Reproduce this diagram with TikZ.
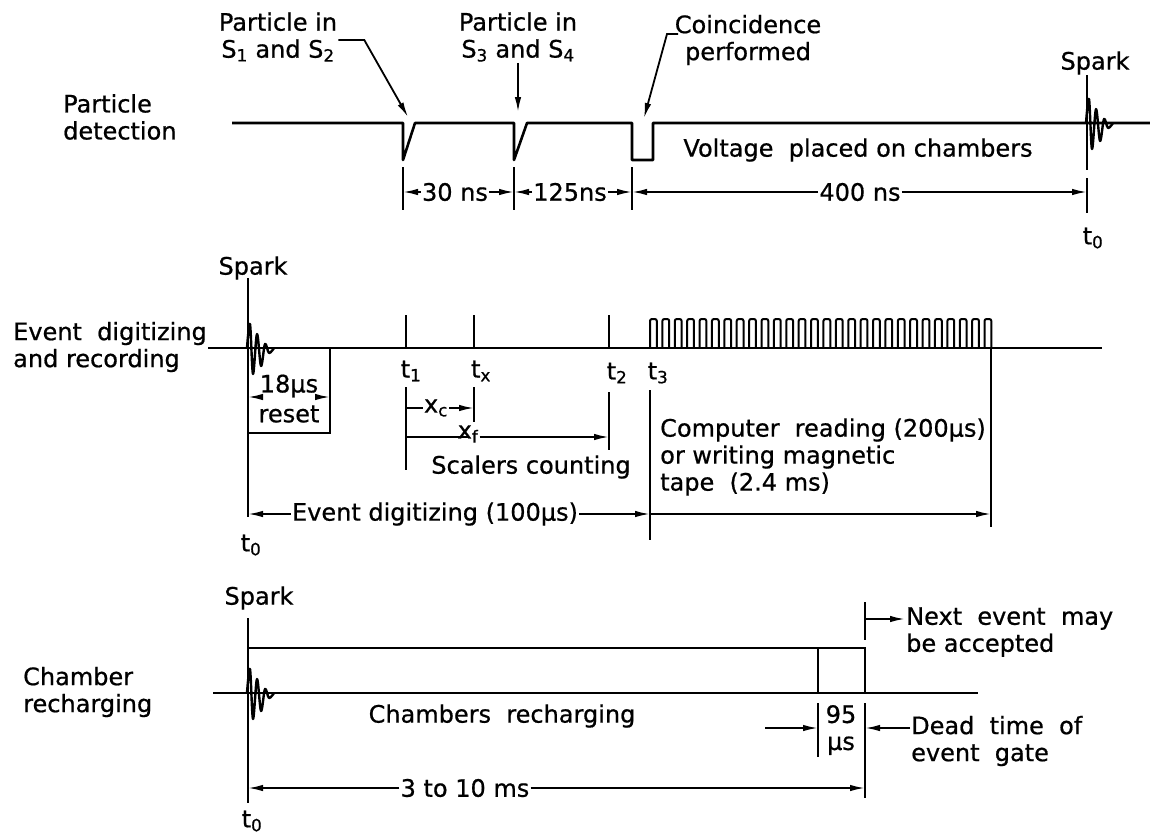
\documentclass[tikz,border=0pt]{standalone}
\usepackage{fontspec}
\setmainfont{DejaVu Sans}[FakeBold=0.7]
\usetikzlibrary{arrows,arrows.meta,positioning}
\newcommand{\subidx}[1]{\textsubscript{#1}}
\newcommand{\sparkburst}[2]{\draw[spark, shift={(#1,#2)}] plot[smooth, tension=0.55] coordinates {(-1,0) (2,-24) (5,26) (9,-14) (13,18) (17,-4) (21,5) (26,0)};}

\begin{document}
\begin{tikzpicture}[x=1pt, y=-1pt, >={Latex[length=15pt,width=6.5pt]},
  lbl/.style={font=\fontsize{24}{27}\selectfont, inner sep=1pt, align=left},
  wave/.style={line width=2.6pt, line join=round},
  dim/.style={line width=1.8pt},
  train/.style={line width=2pt, rounded corners=2pt},
  spark/.style={line width=2.4pt, line join=round}]
\useasboundingbox (0,0) rectangle (1150,839);

% particle detection
\node[lbl, anchor=west] (pdet) at (62,117) {Particle\\detection};
\node[lbl, align=center] (s12) at (278,37) {Particle in\\S\subidx{1} and S\subidx{2}};
\node[lbl, align=center] (s34) at (518,37) {Particle in\\S\subidx{3} and S\subidx{4}};
\node[lbl, align=center] (coinc) at (748,40) {Coincidence\\performed};
\node[lbl] (volt) at (858,150) {Voltage\ \ placed on chambers};
\node[lbl] (spk1) at (1095,63) {Spark};
\node[lbl] (t01) at (1093,238) {t\subidx{0}};
\coordinate (p1) at (408,117);
\coordinate (p2) at (518,112);
\coordinate (p3) at (644,118);
\coordinate (c0) at (678,34);
\draw[wave] (232,123) -- (403,123) -- (403,160) -- (415,123) -- (514,123) -- (514,160) -- (527,123)
  -- (632,123) -- (632,160) -- (653,160) -- (653,123) -- (1150,123);
\draw[wave] (1087,75) -- (1087,170);
\sparkburst{1087}{123}
\draw[dim,->] ([yshift=-3pt]s12.east) -- ++(26,0) -- (p1);
\draw[dim,->] (s34) -- (p2);
\draw[dim,->] (c0) -- ++(-11,0) -- (p3);
\coordinate (a0) at (403,192);
\coordinate (a1) at (514,192);
\coordinate (a2) at (632,192);
\coordinate (a3) at (1087,192);
\foreach \c in {a0,a1,a2} \draw[dim] (\c) ++(0,-25) -- ++(0,43);
\draw[dim] (a3) ++(0,-14) -- ++(0,35);
\node[lbl] (d30) at (455,192) {30 ns};
\node[lbl] (d125) at (570,192) {125ns};
\node[lbl] (d400) at (860,192) {400 ns};
\draw[dim,->] (d30) -- (a0);
\draw[dim,->] (d30) -- (a1);
\draw[dim,->] (d125) -- (a1);
\draw[dim,->] (d125) -- (a2);
\draw[dim,->] (d400) -- (a2);
\draw[dim,->] (d400) -- (a3);

% event digitizing and recording
\node[lbl, anchor=west] (evrec) at (12,347) {Event\ \ digitizing\\and recording};
\node[lbl] (spk2) at (253,268) {Spark};
\node[lbl] (t02) at (251,545) {t\subidx{0}};
\draw[wave] (208,348) -- (1102,348);
\draw[wave] (248,278) -- (248,378);
\draw[dim] (248,378) -- (248,517);
\sparkburst{248}{348}
\foreach \x in {406,474,609} \draw[wave] (\x,348) -- (\x,315);
\foreach \i in {0,...,27} \draw[train] ({650+\i*12.39},348) -- ++(0,-29) -- ++(6.8,0) -- ++(0,29);
\draw[dim] (330,348) -- (330,433) -- (248,433);
\node[lbl] (d18) at (289,386) {18µs};
\node[lbl] (reset) at (289,414) {reset};
\coordinate (r0) at (248,397);
\coordinate (r1) at (330,397);
\draw[dim,->] (d18.west |- r0) -- (r0);
\draw[dim,->] (d18.east |- r1) -- (r1);
\node[lbl] (t1) at (411,371) {t\subidx{1}};
\node[lbl] (tx) at (481,371) {t\subidx{x}};
\node[lbl] (t2) at (617,373) {t\subidx{2}};
\node[lbl] (t3) at (658,373) {t\subidx{3}};
\draw[dim] (406,387) -- (406,470);
\draw[dim] (474,387) -- (474,422);
\draw[dim] (609,392) -- (609,450);
\draw[dim] (650,390) -- (650,540);
\draw[dim] (991,348) -- (991,527);
\coordinate (xc0) at (406,408);
\coordinate (xc1) at (474,408);
\coordinate (xf0) at (406,437);
\coordinate (xf1) at (609,437);
\node[lbl] (xc) at (436,408) {x\subidx{c}};
\node[lbl] (xf) at (468,434) {x\subidx{f}};
\draw[dim] (xc) -- (xc0);
\draw[dim,->] (xc) -- (xc1);
\draw[dim] (xf |- xf0) -- (xf0);
\draw[dim,->] (xf.east |- xf1) -- (xf1);
\node[lbl] (scal) at (531,467) {Scalers counting};
\node[lbl, anchor=west] (comp) at (659,457) {Computer\ \ reading (200µs)\\or writing magnetic\\tape\ \ (2.4 ms)};
\coordinate (e0) at (248,514);
\coordinate (e1) at (650,514);
\coordinate (e2) at (991,514);
\node[lbl] (evdig) at (435,514) {Event digitizing (100µs)};
\draw[dim,->] (evdig) -- (e0);
\draw[dim,->] (evdig) -- (e1);
\draw[dim,->] (e1) -- (e2);

% chamber recharging
\node[lbl, anchor=west] (chrg) at (22,692) {Chamber\\recharging};
\node[lbl] (spk3) at (259,598) {Spark};
\node[lbl] (t03) at (252,821) {t\subidx{0}};
\draw[wave] (213,693) -- (978,693);
\draw[wave] (248,618) -- (248,725);
\draw[dim] (248,725) -- (248,803);
\sparkburst{248}{693}
\draw[dim] (248,648) -- (865,648) -- (865,693);
\draw[dim] (818,648) -- (818,693);
\node[lbl] (chbr) at (502,716) {Chambers\ \ recharging};
\coordinate (g0) at (818,728);
\coordinate (g1) at (865,728);
\coordinate (g2) at (248,788);
\coordinate (g3) at (865,788);
\coordinate (ne) at (865,619);
\draw[dim] (818,703) -- (818,757);
\draw[dim] (865,703) -- (865,798);
\draw[dim] (865,602) -- (865,640);
\node[lbl, anchor=west] (next) at (905,632) {Next\ \ event\ \ may\\be accepted};
\node[lbl, anchor=west] (dead) at (910,741) {Dead\ \ time\ \ of\\event\ \ gate};
\node[lbl, align=center] (d95) at (841,730) {95\\µs};
\node[lbl] (n310) at (465,788) {3 to 10 ms};
\draw[dim,->] (ne) -- (ne -| next.west);
\draw[dim,->] (765,728) -- (g0);
\draw[dim,->] (dead.west |- g1) -- (g1);
\draw[dim,->] (n310) -- (g2);
\draw[dim,->] (n310) -- (g3);
\end{tikzpicture}
\end{document}
